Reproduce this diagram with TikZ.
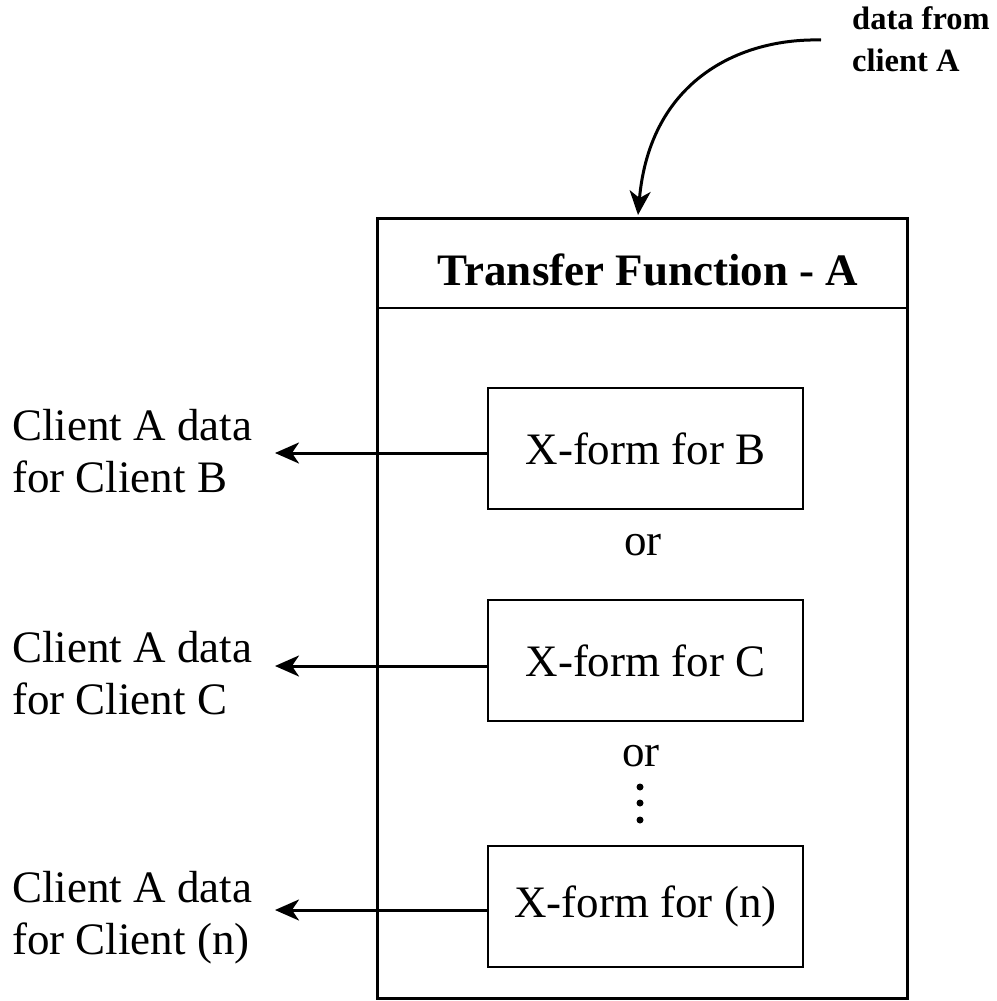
\documentclass[tikz,border=0pt]{standalone}
\usepackage{fontspec}
\setmainfont{Liberation Serif}
\usetikzlibrary{arrows.meta}
\tikzset{
  outerbox/.style={draw, line width=3pt, minimum width=530pt, minimum height=780pt, inner sep=0pt},
  xbox/.style={draw, line width=2pt, minimum width=315pt, minimum height=121pt, inner sep=0pt,
    font=\fontsize{45}{52}\selectfont},
  titletext/.style={font=\bfseries\fontsize{45}{52}\selectfont, inner sep=0pt, anchor=base},
  ortext/.style={font=\fontsize{45}{52}\selectfont, inner sep=0pt, anchor=base},
  sidelabel/.style={font=\fontsize{45}{52}\selectfont, inner sep=0pt, anchor=base west, align=left},
  toplabel/.style={font=\bfseries\fontsize{32.5}{42}\selectfont, inner sep=0pt, anchor=base west, align=left},
  arr/.style={line width=3pt, -{Stealth[length=24pt, width=21pt, inset=7pt]}},
  dotnode/.style={circle, fill=black, inner sep=0pt, minimum size=7pt},
  divider/.style={line width=2pt}
}
\begin{document}
\begin{tikzpicture}[x=1pt, y=-1pt]
\useasboundingbox[fill=white] (0,0) rectangle (996,1001);

% outer transfer function box
\node[outerbox] (tf) at (642,608) {};
\node[titletext] (title) at (648,285) {Transfer Function - A};
\coordinate (dl) at (377,308);
\coordinate (dr) at (907,308);
\draw[divider] (dl) -- (dr);

% inner boxes
\node[xbox] (xb) at (645.5,448.5) {X-form for B};
\node[xbox] (xc) at (645.5,660.5) {X-form for C};
\node[xbox] (xn) at (645.5,906.5) {X-form for (n)};

% or / dots
\node[ortext] (or1) at (643,555) {or};
\node[ortext] (or2) at (641,766) {or};
\node[dotnode] (d1) at (640,787) {};
\node[dotnode] (d2) at (640,803) {};
\node[dotnode] (d3) at (640,820) {};

% side labels (anchor = baseline of last line)
\node[sidelabel] (lb) at (12,492) {Client A data\\for Client B};
\node[sidelabel] (lc) at (12,714) {Client A data\\for Client C};
\node[sidelabel] (ln) at (12,954) {Client A data\\for Client (n)};

% arrow end points
\coordinate (eb) at (275,453);
\coordinate (ec) at (275,666);
\coordinate (en) at (275,910);
\draw[arr] (xb.west |- eb) -- (eb);
\draw[arr] (xc.west |- ec) -- (ec);
\draw[arr] (xn.west |- en) -- (en);

% top label and incoming curved arrow
\node[toplabel] (src) at (852,71) {data from\\client A};
\coordinate (cs) at (821,40);
\coordinate (ct) at (638,215);
\draw[arr] (cs) .. controls (740,38) and (650,80) .. (ct);
\end{tikzpicture}
\end{document}
